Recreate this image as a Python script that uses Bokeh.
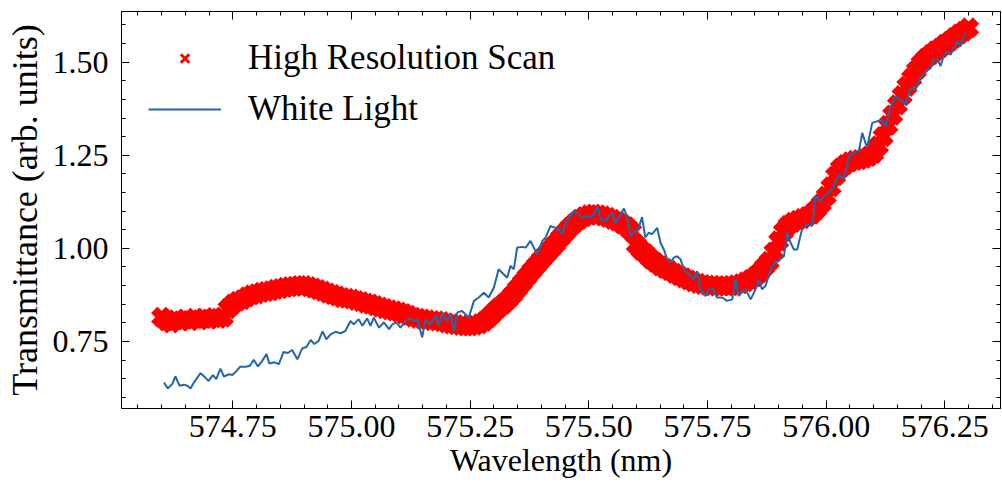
from bokeh.plotting import figure
from bokeh.models import (Range1d, LinearAxis, SingleIntervalTicker, PrintfTickFormatter,
                          CustomLabelingPolicy)
from bokeh.embed import file_html
from bokeh.resources import INLINE

# High resolution scan (centre of the red band)
hr_wavelength = [
    574.60, 574.61, 574.62, 574.63, 574.64, 574.65, 574.66, 574.67, 574.68, 574.69,
    574.70, 574.71, 574.72, 574.73, 574.74, 574.75, 574.76, 574.77, 574.78, 574.79,
    574.80, 574.81, 574.82, 574.83, 574.84, 574.85, 574.86, 574.87, 574.88, 574.89,
    574.90, 574.91, 574.92, 574.93, 574.94, 574.95, 574.96, 574.97, 574.98, 574.99,
    575.00, 575.01, 575.02, 575.03, 575.04, 575.05, 575.06, 575.07, 575.08, 575.09,
    575.10, 575.11, 575.12, 575.13, 575.14, 575.15, 575.16, 575.17, 575.18, 575.19,
    575.20, 575.21, 575.22, 575.23, 575.24, 575.25, 575.26, 575.27, 575.28, 575.29,
    575.30, 575.31, 575.32, 575.33, 575.34, 575.35, 575.36, 575.37, 575.38, 575.39,
    575.40, 575.41, 575.42, 575.43, 575.44, 575.45, 575.46, 575.47, 575.48, 575.49,
    575.50, 575.51, 575.52, 575.53, 575.54, 575.55, 575.56, 575.57, 575.58, 575.59,
    575.60, 575.61, 575.62, 575.63, 575.64, 575.65, 575.66, 575.67, 575.68, 575.69,
    575.70, 575.71, 575.72, 575.73, 575.74, 575.75, 575.76, 575.77, 575.78, 575.79,
    575.80, 575.81, 575.82, 575.83, 575.84, 575.85, 575.86, 575.87, 575.88, 575.89,
    575.90, 575.91, 575.92, 575.93, 575.94, 575.95, 575.96, 575.97, 575.98, 575.99,
    576.00, 576.01, 576.02, 576.03, 576.04, 576.05, 576.06, 576.07, 576.08, 576.09,
    576.10, 576.11, 576.12, 576.13, 576.14, 576.15, 576.16, 576.17, 576.18, 576.19,
    576.20, 576.21, 576.22, 576.23, 576.24, 576.25, 576.26, 576.27, 576.28, 576.29,
    576.30,
]
hr_transmittance = [
    0.815, 0.805, 0.800, 0.808, 0.805, 0.810, 0.806, 0.812, 0.808, 0.812,
    0.810, 0.814, 0.812, 0.815, 0.838, 0.850, 0.858, 0.862, 0.870, 0.875,
    0.878, 0.882, 0.884, 0.886, 0.890, 0.892, 0.895, 0.897, 0.898, 0.900,
    0.900, 0.897, 0.893, 0.889, 0.885, 0.880, 0.876, 0.872, 0.868, 0.866,
    0.864, 0.860, 0.857, 0.853, 0.850, 0.846, 0.842, 0.838, 0.835, 0.832,
    0.829, 0.825, 0.820, 0.815, 0.812, 0.810, 0.808, 0.806, 0.805, 0.803,
    0.800, 0.797, 0.795, 0.793, 0.792, 0.792, 0.794, 0.797, 0.804, 0.815,
    0.828, 0.840, 0.850, 0.862, 0.876, 0.892, 0.908, 0.924, 0.940, 0.955,
    0.970, 0.984, 0.998, 1.012, 1.028, 1.042, 1.056, 1.068, 1.078, 1.085,
    1.090, 1.092, 1.090, 1.087, 1.083, 1.078, 1.073, 1.066, 1.058, 1.045,
    1.010, 0.995, 0.985, 0.972, 0.962, 0.953, 0.946, 0.940, 0.933, 0.927,
    0.921, 0.915, 0.910, 0.906, 0.903, 0.901, 0.900, 0.899, 0.899, 0.899,
    0.900, 0.902, 0.905, 0.910, 0.916, 0.924, 0.935, 0.950, 0.965, 0.990,
    1.020, 1.045, 1.062, 1.070, 1.075, 1.080, 1.085, 1.092, 1.105, 1.120,
    1.140, 1.165, 1.195, 1.215, 1.225, 1.232, 1.236, 1.238, 1.242, 1.247,
    1.255, 1.275, 1.300, 1.330, 1.358, 1.385, 1.410, 1.435, 1.457, 1.478,
    1.497, 1.510, 1.520, 1.530, 1.538, 1.548, 1.556, 1.566, 1.575, 1.583,
    1.592,
]

# White light spectrum
wl_wavelength = [
    574.605, 574.613, 574.622, 574.629, 574.638, 574.647, 574.654, 574.661, 574.668, 574.682,
    574.692, 574.699, 574.708, 574.715, 574.724, 574.731, 574.742, 574.749, 574.758, 574.765,
    574.777, 574.786, 574.794, 574.803, 574.812, 574.821, 574.827, 574.838, 574.847, 574.857,
    574.866, 574.875, 574.886, 574.896, 574.905, 574.914, 574.922, 574.931, 574.939, 574.947,
    574.956, 574.966, 574.977, 574.987, 574.998, 575.005, 575.015, 575.023, 575.033, 575.040,
    575.047, 575.058, 575.068, 575.079, 575.086, 575.095, 575.103, 575.114, 575.121, 575.131,
    575.138, 575.149, 575.156, 575.166, 575.177, 575.184, 575.191, 575.200, 575.209, 575.216,
    575.223, 575.233, 575.240, 575.247, 575.258, 575.268, 575.279, 575.289, 575.300, 575.310,
    575.321, 575.328, 575.335, 575.342, 575.349, 575.360, 575.367, 575.377, 575.391, 575.402,
    575.409, 575.419, 575.430, 575.437, 575.444, 575.451, 575.458, 575.468, 575.475, 575.486,
    575.497, 575.503, 575.510, 575.518, 575.525, 575.535, 575.542, 575.549, 575.556, 575.563,
    575.574, 575.581, 575.588, 575.598, 575.605, 575.612, 575.619, 575.626, 575.633, 575.644,
    575.651, 575.658, 575.665, 575.672, 575.679, 575.686, 575.693, 575.700, 575.707, 575.714,
    575.721, 575.728, 575.735, 575.746, 575.753, 575.760, 575.770, 575.781, 575.791, 575.802,
    575.809, 575.816, 575.823, 575.830, 575.841, 575.851, 575.858, 575.865, 575.872, 575.879,
    575.886, 575.897, 575.911, 575.918, 575.925, 575.932, 575.939, 575.949, 575.960, 575.971,
    575.977, 575.988, 575.995, 576.006, 576.016, 576.027, 576.037, 576.048, 576.058, 576.069,
    576.076, 576.086, 576.097, 576.107, 576.118, 576.125, 576.135, 576.146, 576.157, 576.167,
    576.178, 576.188, 576.199, 576.209, 576.220, 576.227, 576.234, 576.241, 576.248, 576.255,
    576.262, 576.269, 576.276, 576.283, 576.293,
]
wl_transmittance = [
    0.640, 0.624, 0.635, 0.656, 0.631, 0.634, 0.631, 0.624, 0.640, 0.665,
    0.653, 0.644, 0.660, 0.649, 0.677, 0.656, 0.662, 0.660, 0.671, 0.682,
    0.682, 0.685, 0.701, 0.683, 0.698, 0.716, 0.691, 0.694, 0.689, 0.722,
    0.719, 0.727, 0.702, 0.731, 0.735, 0.754, 0.743, 0.752, 0.777, 0.756,
    0.769, 0.776, 0.772, 0.778, 0.805, 0.796, 0.810, 0.792, 0.812, 0.792,
    0.814, 0.787, 0.801, 0.783, 0.796, 0.801, 0.787, 0.805, 0.812, 0.805,
    0.810, 0.761, 0.810, 0.796, 0.819, 0.792, 0.828, 0.805, 0.823, 0.778,
    0.828, 0.832, 0.823, 0.814, 0.859, 0.868, 0.881, 0.868, 0.895, 0.944,
    0.930, 0.921, 0.953, 0.944, 1.002, 1.004, 1.002, 1.020, 0.984, 1.020,
    1.029, 1.060, 1.055, 1.051, 1.038, 1.069, 1.082, 1.100, 1.096, 1.082,
    1.087, 1.082, 1.091, 1.111, 1.078, 1.073, 1.087, 1.096, 1.069, 1.082,
    1.107, 1.082, 1.033, 1.046, 1.055, 1.084, 1.029, 1.042, 1.038, 1.055,
    1.015, 0.997, 0.971, 0.962, 0.975, 0.979, 0.971, 0.944, 0.935, 0.926,
    0.917, 0.939, 0.890, 0.872, 0.890, 0.895, 0.868, 0.868, 0.859, 0.863,
    0.917, 0.872, 0.886, 0.890, 0.863, 0.890, 0.917, 0.890, 0.899, 0.926,
    0.953, 0.966, 0.979, 1.042, 1.015, 0.997, 0.997, 1.051, 1.064, 1.062,
    1.140, 1.127, 1.140, 1.149, 1.167, 1.198, 1.185, 1.247, 1.257, 1.261,
    1.310, 1.270, 1.337, 1.341, 1.343, 1.328, 1.377, 1.408, 1.399, 1.386,
    1.431, 1.426, 1.458, 1.475, 1.484, 1.507, 1.511, 1.489, 1.520, 1.529,
    1.520, 1.538, 1.556, 1.542, 1.578,
]

x_label = "Wavelength (nm)"
y_label = "Transmittance (arb. units)"
hr_name = "High Resolution Scan"
wl_name = "White Light"

FONT = "Liberation Serif"
RED = "#ff0000"
BLUE = "#2166ae"

p = figure(width=1002, height=487, output_backend="svg", toolbar_location=None,
           title=None,
           x_range=Range1d(574.5155, 576.3672), y_range=Range1d(0.570, 1.636),
           min_border_left=121, min_border_right=2, min_border_top=11,
           min_border_bottom=79)
p.background_fill_color = "white"
p.border_fill_color = "white"
p.outline_line_color = "black"
p.outline_line_width = 1
p.xgrid.visible = False
p.ygrid.visible = False

# thin-stroked copy of the first scan point, used only for the legend swatch
p.scatter(hr_wavelength[:1], hr_transmittance[:1], marker="x", size=12, line_width=3,
          line_color=RED, legend_label=hr_name)
# the dense scan: overlapping crosses form the thick red band
p.scatter(hr_wavelength, hr_transmittance, marker="x", size=21, line_width=9,
          line_color=RED)
p.line(wl_wavelength, wl_transmittance, line_color=BLUE, line_width=2,
       legend_label=wl_name)


def style_axis(ax, label_size=None, title_size=None):
    ax.ticker = SingleIntervalTicker(interval=0.25, num_minor_ticks=5)
    ax.formatter = PrintfTickFormatter(format="%.2f")
    ax.axis_line_color = "black"
    ax.axis_line_width = 1
    ax.major_tick_in = 8
    ax.major_tick_out = 0
    ax.minor_tick_in = 4
    ax.minor_tick_out = 0
    ax.major_tick_line_color = "black"
    ax.minor_tick_line_color = "black"
    ax.major_label_text_font = FONT
    ax.axis_label_text_font = FONT
    ax.axis_label_text_font_style = "normal"
    ax.major_label_text_color = "black"
    ax.axis_label_text_color = "black"
    if label_size:
        ax.major_label_text_font_size = label_size
        ax.axis_label_text_font_size = title_size
    else:
        ax.major_label_policy = CustomLabelingPolicy(code="return []")
        ax.major_label_text_font_size = "0px"
        ax.major_label_standoff = 0


xa = p.xaxis[0]
style_axis(xa, "32px", "32px")
xa.axis_label = x_label
xa.major_label_standoff = 7
xa.axis_label_standoff = 2

ya = p.yaxis[0]
style_axis(ya, "32px", "36px")
ya.axis_label = y_label
ya.major_label_standoff = 13
ya.axis_label_standoff = 5

top = LinearAxis()
style_axis(top)
p.add_layout(top, "above")
right = LinearAxis()
style_axis(right)
p.add_layout(right, "right")

lg = p.legend[0]
lg.location = "top_left"
lg.border_line_color = None
lg.background_fill_alpha = 0
lg.label_text_font = FONT
lg.label_text_font_size = "35px"
lg.label_text_color = "black"
lg.glyph_width = 73
lg.glyph_height = 30
lg.label_height = 30
lg.label_standoff = 27
lg.spacing = 11
lg.padding = 0
lg.margin = 27

open("out.html", "w").write(file_html(p, INLINE))
